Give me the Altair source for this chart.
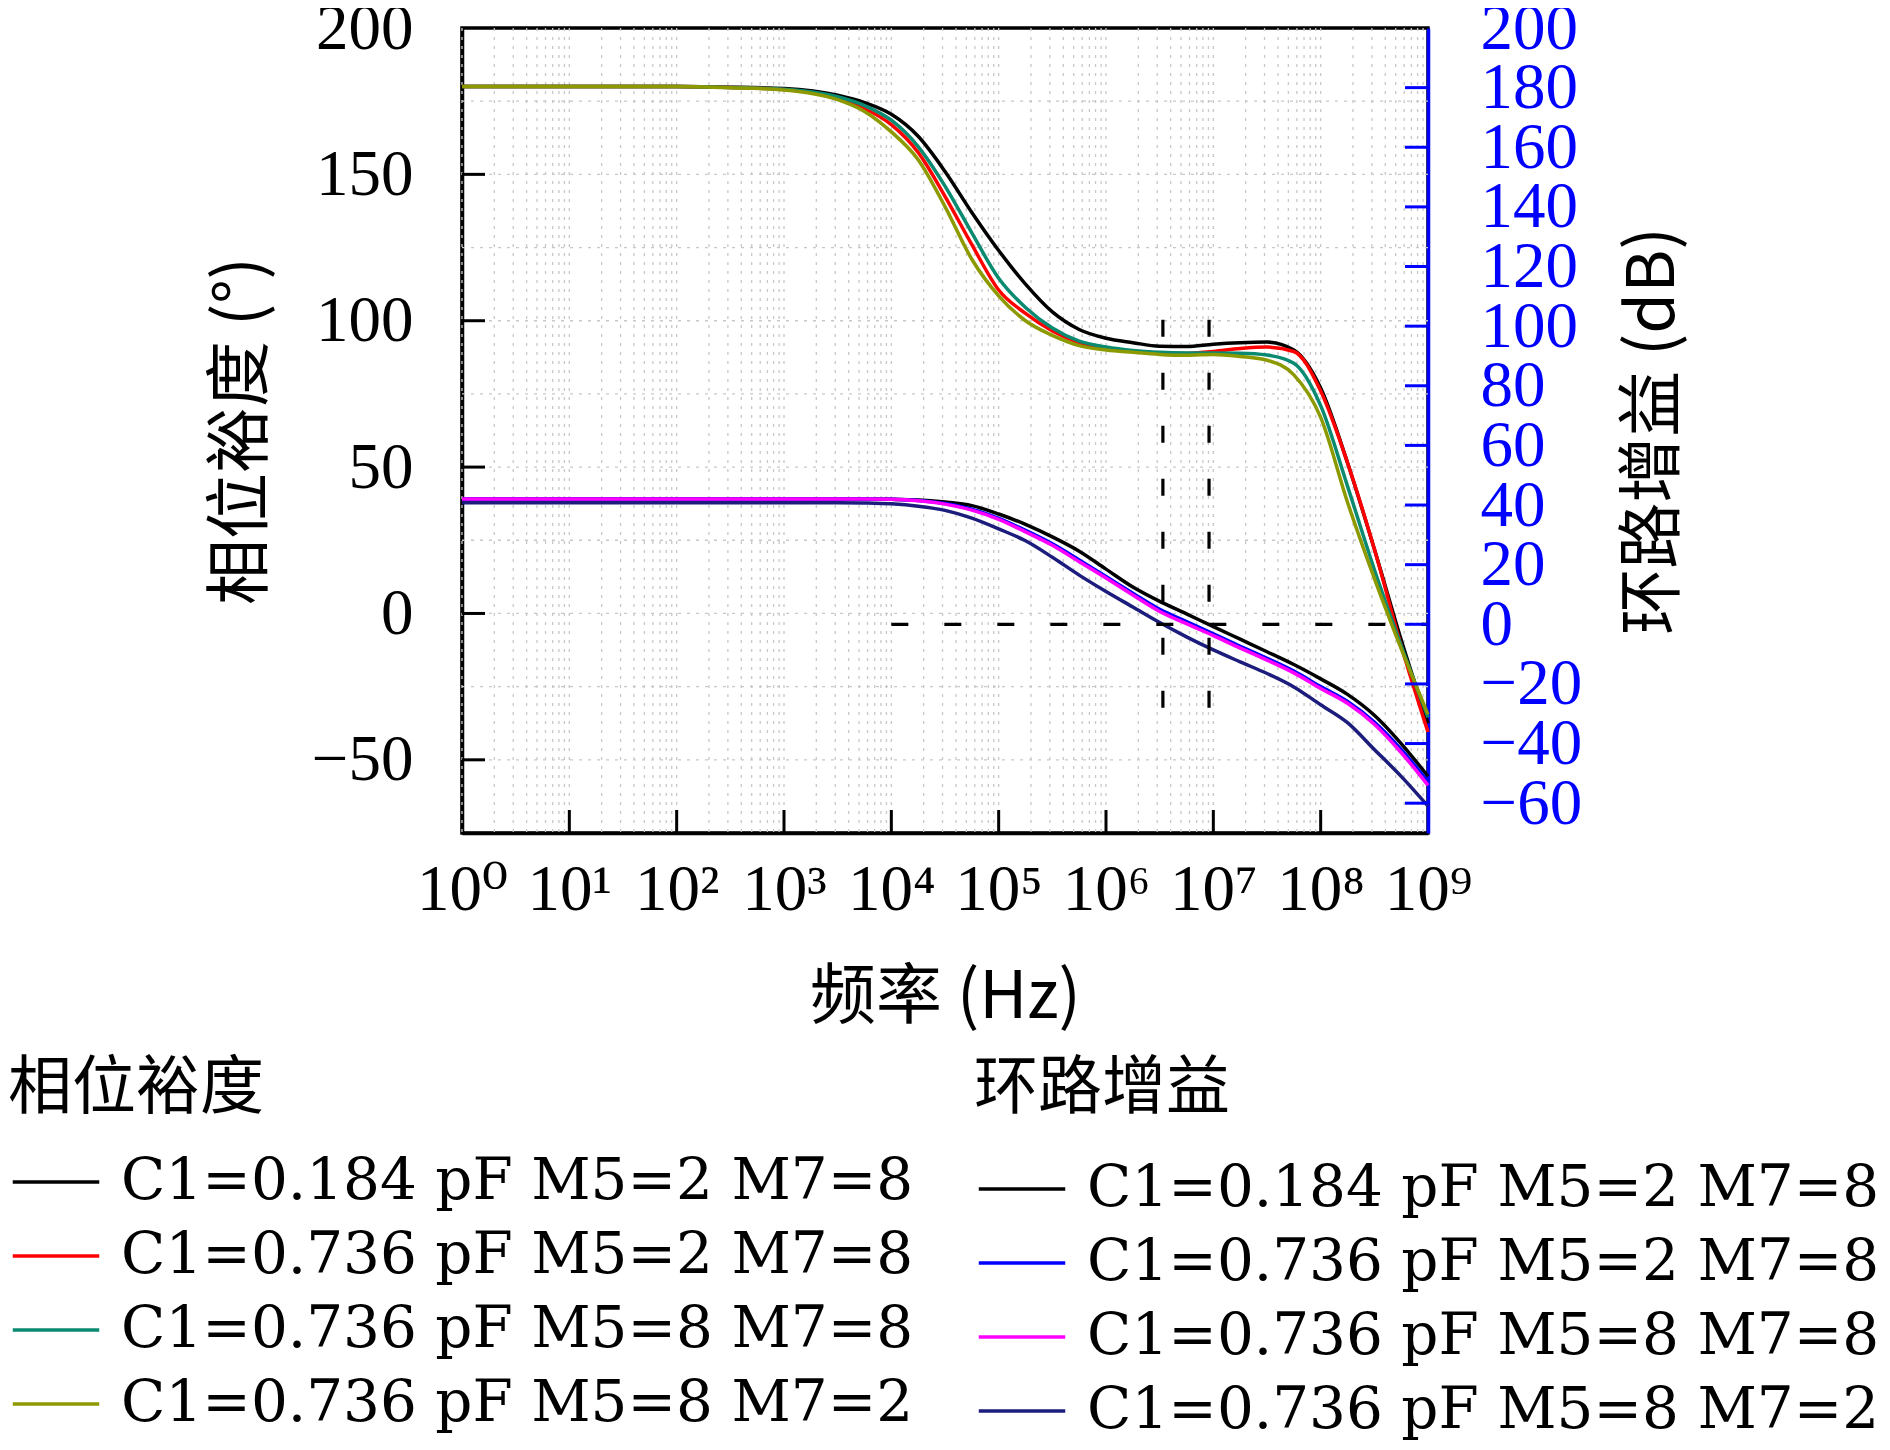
import altair as alt
import pandas as pd

# ---------------- data ----------------
exps = [0, 1, 2, 2.5, 3, 3.5, 3.75, 4, 4.25, 4.5, 4.75, 5, 5.25, 5.5, 5.75,
        6, 6.25, 6.5, 6.75, 7, 7.25, 7.5, 7.75, 8, 8.25, 8.5, 8.75, 9]

series_names = ["C1=0.184 pF M5=2 M7=8", "C1=0.736 pF M5=2 M7=8",
                "C1=0.736 pF M5=8 M7=8", "C1=0.736 pF M5=8 M7=2"]

phase_colors = ["#000000", "#ff0000", "#0a8a70", "#8c9a00"]
gain_colors = ["#000000", "#0000ff", "#ff00ff", "#1c1c7c"]

phase_black = [180, 180, 180, 179.8, 179.3, 177, 174.5, 170.5, 163, 151, 137, 124, 112.5, 103, 97,
               94, 92.5, 91.3, 91.2, 92, 92.5, 92.7, 90, 77, 51.5, 22, -9, -37.5]
phase_red = [180, 180, 180, 179.7, 179, 176, 172.5, 167, 157.5, 142.5, 126, 110.5, 102.5, 96.5, 92.5,
             90.5, 89.6, 89, 88.8, 89.5, 90.5, 91, 89.5, 76, 51.5, 22, -11, -40.5]
phase_teal = [180, 180, 180, 179.7, 179.1, 176.5, 173.5, 168.5, 159.5, 146, 130, 114.5, 104.5, 97.5, 93,
              91, 89.8, 89.2, 89, 89, 88.9, 88.3, 85.5, 71, 43.5, 15, -11, -35.5]
phase_olive = [180, 180, 180, 179.6, 178.8, 175.5, 171.5, 164.5, 155, 139, 121, 108.5, 100, 95, 91.5,
               90, 89.2, 88.5, 88.2, 88.5, 87.8, 86.5, 81.5, 67, 38, 12, -12, -34.5]

gain_black = [42, 42, 42, 42, 42, 42, 42, 41.9, 41.7, 41, 39.8, 37, 33.5, 29.3, 24.5,
              18.5, 12.5, 7.7, 3.5, -0.8, -5, -9.2, -13.5, -18.3, -23.5, -30.5, -40, -51]
gain_blue = [42, 42, 42, 42, 42, 42, 42, 41.9, 41.5, 40.5, 38.6, 35.5, 31.5, 27, 21.6,
             16, 10.4, 5, 0.9, -3.2, -7.4, -11.4, -15.7, -20.9, -25.9, -32.8, -42, -52.8]
gain_magenta = [42, 42, 42, 42, 42, 42, 42, 41.9, 41.4, 40.3, 38.3, 35.2, 31, 26.5, 21,
                15.5, 9.8, 4.3, 0.2, -3.8, -8, -12, -16.3, -21.5, -26.5, -33.5, -43, -54]
gain_navy = [40.8, 40.8, 40.8, 40.8, 40.8, 40.8, 40.7, 40.4, 39.6, 38.2, 35.6, 32, 28, 22.5, 16.5,
             11, 5.8, 0.6, -4.2, -8.6, -12.6, -16.5, -21, -27, -33, -42, -51, -61]

# dashed guide lines (gain axis units)
dash_seg = ["h", "h", "v1", "v1", "v2", "v2"]
dash_exp = [4, 9, 6.53, 6.53, 6.96, 6.96]
dash_gain = [0, 0, -28, 103, -28, 103]

# axis values / grid positions
x_tick_exps = [0, 1, 2, 3, 4, 5, 6, 7, 8, 9]
x_inner_tick_exps = [1, 2, 3, 4, 5, 6, 7, 8]
grid_mult = [1, 2, 3, 4, 5, 6, 7, 8, 9]
left_values = [-50, 0, 50, 100, 150, 200]
left_inner_ticks = [-50, 0, 50, 100, 150]
left_grid = [-50, -25, 0, 25, 50, 75, 100, 125, 150, 175]
right_values = [-60, -40, -20, 0, 20, 40, 60, 80, 100, 120, 140, 160, 180, 200]
right_inner_ticks = [-60, -40, -20, 0, 20, 40, 60, 80, 100, 120, 140, 160, 180]

# ---------------- tables ----------------
phase_rows = []
for name, vals in zip(series_names, [phase_black, phase_red, phase_teal, phase_olive]):
    for e, v in zip(exps, vals):
        phase_rows.append({"f": 10 ** e, "v": v, "ps": name})
phase_df = pd.DataFrame(phase_rows)

gain_rows = []
for name, vals in zip(series_names, [gain_black, gain_blue, gain_magenta, gain_navy]):
    for e, v in zip(exps, vals):
        gain_rows.append({"f": 10 ** e, "g": v, "gs": name})
gain_df = pd.DataFrame(gain_rows)

dash_df = pd.DataFrame({"seg": dash_seg, "f": [10 ** e for e in dash_exp], "g": dash_gain})
vgrid_df = pd.DataFrame({"f": [m * 10 ** k for k in range(9) for m in grid_mult]})
hgrid_df = pd.DataFrame({"v": left_grid})
xtick_df = pd.DataFrame({"f": [10 ** e for e in x_inner_tick_exps]})
ltick_df = pd.DataFrame({"v": left_inner_ticks})
rtick_df = pd.DataFrame({"g": right_inner_ticks})

# ---------------- styling ----------------
W, H = 966, 805
SERIF = "Liberation Serif, DejaVu Serif, Noto Sans CJK SC"
CJK = "Noto Sans CJK SC, Liberation Serif"
TICK = 23
BLUE = "#0000ff"

x_axis = alt.Axis(
    orient="bottom", values=[10 ** e for e in x_tick_exps],
    labelExpr="'10' + ['⁰','¹','²','³','⁴','⁵','⁶','⁷','⁸','⁹'][round(log(datum.value)/LN10)]",
    ticks=False, tickSize=0, grid=False, domainColor="black", domainWidth=3.5,
    labelFont=SERIF, labelFontSize=65, labelColor="black", labelPadding=25,
    labelBaseline="top", labelOverlap=False, labelFlush=False,
    title="频率 (Hz)", titleFont=CJK, titleFontSize=66, titleFontWeight="normal",
    titleColor="black", titleX=W / 2, titleY=164, titleAlign="center", titleBaseline="middle",
)
x_scale = alt.Scale(type="log", domain=[1, 1e9], nice=False)


def xe():
    return alt.X("f:Q", scale=x_scale, axis=x_axis)


left_axis = alt.Axis(
    orient="left", values=left_values, ticks=False, tickSize=0, grid=False,
    domainColor="black", domainWidth=3.5,
    labelFont=SERIF, labelFontSize=65, labelColor="black", labelPadding=49,
    labelOverlap=False, labelFlush=False,
    title="相位裕度 (°)", titleFont=CJK, titleFontSize=66, titleFontWeight="normal",
    titleColor="black", titleAngle=270, titleX=-221, titleY=H / 2,
    titleAlign="center", titleBaseline="middle",
)
right_axis = alt.Axis(
    orient="right", values=right_values, ticks=False, tickSize=0, grid=False,
    domainColor=BLUE, domainWidth=3.5,
    labelFont=SERIF, labelFontSize=65, labelColor=BLUE, labelPadding=52,
    labelOverlap=False, labelFlush=False,
    title="环路增益 (dB)", titleFont=CJK, titleFontSize=66, titleFontWeight="normal",
    titleColor="black", titleAngle=270, titleX=225, titleY=H / 2,
    titleAlign="center", titleBaseline="middle",
)
left_scale = alt.Scale(domain=[-75, 200], nice=False, zero=False)
right_scale = alt.Scale(domain=[-70, 200], nice=False, zero=False)


def yl():
    return alt.Y("v:Q", scale=left_scale, axis=left_axis)


def yr():
    return alt.Y("g:Q", scale=right_scale, axis=right_axis)


def legend(title, lx, ly, tpad):
    return alt.Legend(
        orient="none", legendX=lx, legendY=ly, direction="vertical",
        title=title, titleFont=CJK, titleFontSize=64, titleFontWeight="normal",
        titleColor="black", titlePadding=tpad, titleLimit=2000, titleAnchor="start",
        labelFont="DejaVu Serif", labelFontSize=58, labelColor="black", labelLimit=3000,
        labelOffset=20, symbolType="stroke", symbolSize=7480, symbolStrokeWidth=3.5,
        symbolOffset=3, rowPadding=0,
    )


GRID = dict(color="#c8c8c8", strokeWidth=1.3, strokeDash=[3, 6])

hgrid = alt.Chart(hgrid_df).mark_rule(**GRID).encode(
    y=yl(), x=alt.value(0), x2=alt.value(W))
vgrid = alt.Chart(vgrid_df).mark_rule(**GRID).encode(
    x=xe(), y=alt.value(0), y2=alt.value(H))

phase_lines = alt.Chart(phase_df).mark_line(strokeWidth=3.5, interpolate="monotone").encode(
    x=xe(), y=yl(),
    color=alt.Color("ps:N", scale=alt.Scale(domain=series_names, range=phase_colors),
                    sort=series_names, legend=legend("相位裕度", -454, 1029, 16)),
)
ltick = alt.Chart(ltick_df).mark_rule(color="black", strokeWidth=3).encode(
    y=yl(), x=alt.value(0), x2=alt.value(TICK))
xtick = alt.Chart(xtick_df).mark_rule(color="black", strokeWidth=3).encode(
    x=xe(), y=alt.value(H), y2=alt.value(H - TICK))

gain_lines = alt.Chart(gain_df).mark_line(strokeWidth=3.5, interpolate="monotone").encode(
    x=xe(), y=yr(),
    color=alt.Color("gs:N", scale=alt.Scale(domain=series_names, range=gain_colors),
                    sort=series_names, legend=legend("环路增益", 512, 1029, 23)),
)
dashes = alt.Chart(dash_df).mark_line(color="black", strokeWidth=3.2, strokeDash=[17, 36]).encode(
    x=xe(), y=yr(), detail="seg:N")
rtick = alt.Chart(rtick_df).mark_rule(color=BLUE, strokeWidth=3).encode(
    y=yr(), x=alt.value(W - TICK), x2=alt.value(W))

left_group = alt.layer(hgrid, vgrid, phase_lines, ltick, xtick)
right_group = alt.layer(gain_lines, dashes, rtick)

chart = alt.layer(left_group, right_group).resolve_scale(
    y="independent", color="independent"
).properties(
    width=W, height=H,
    autosize=alt.AutoSizeParams(type="none"),
    padding={"left": 454, "top": 20, "right": 454, "bottom": 609},
    background="white",
).configure_view(stroke="black", strokeWidth=3.5)

chart.save("out.html", embed_options={"renderer": "svg", "actions": False})
